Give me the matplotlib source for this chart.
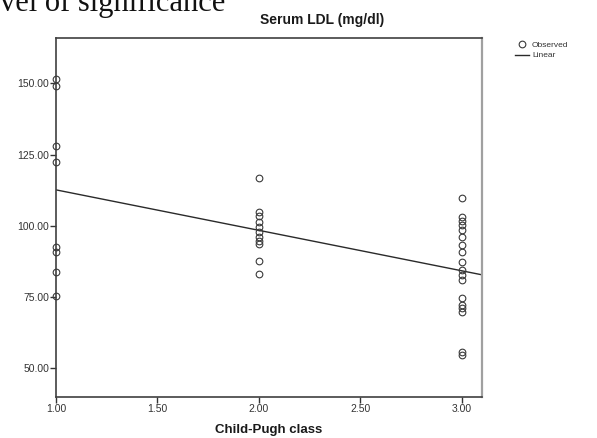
import matplotlib
matplotlib.use("Agg")
import matplotlib.pyplot as plt
import numpy as np

# ---- data ----
class1_values = [151.5, 149.0, 128.0, 122.5, 92.7, 90.9, 83.9, 75.4]
class2_values = [116.7, 104.8, 103.4, 101.3, 99.5, 97.8, 96.0, 94.6, 93.6, 87.6, 83.0]
class3_values = [109.6, 103.2, 101.8, 100.2, 98.5, 96.1, 93.2, 90.9, 87.4,
                 84.4, 82.7, 81.0, 74.5, 72.2, 71.0, 69.8, 55.8, 54.6]
class_levels = [1.0, 2.0, 3.0]
fit_intercept = 126.8
fit_slope = -14.2
x_ticks = [1.0, 1.5, 2.0, 2.5, 3.0]
y_ticks = [50, 75, 100, 125, 150]
title = "Serum LDL (mg/dl)"
x_label = "Child-Pugh class"
legend_labels = ["Observed", "Linear"]

plt.rcParams['font.family'] = ['Liberation Sans', 'DejaVu Sans']

fig = plt.figure(figsize=(5.97, 4.38), dpi=100)
ax = fig.add_axes([56/597, 1-397/438, (482-56)/597, (397-38)/438])

xs, ys = [], []
for lvl, vals in zip(class_levels, [class1_values, class2_values, class3_values]):
    xs += [lvl]*len(vals)
    ys += vals
obs, = ax.plot(xs, ys, linestyle='none', marker='o', markersize=4.8,
               markerfacecolor='none', markeredgecolor='#3a3a3a', markeredgewidth=0.8,
               clip_on=False, zorder=3)

xlim = (1.0, 3.1)
xl = np.array(xlim)
lin, = ax.plot(xl, fit_intercept + fit_slope*xl, color='#2a2a2a', linewidth=1.0, zorder=2)

ax.set_xlim(*xlim)
ax.set_ylim(39.9, 165.9)
ax.set_xticks(x_ticks)
ax.set_xticklabels([f"{t:.2f}" for t in x_ticks])
ax.set_yticks(y_ticks)
ax.set_yticklabels([f"{t:.2f}" for t in y_ticks])
ax.tick_params(axis='both', direction='out', length=4, width=1.0, color='#333333',
               labelsize=7.5, labelcolor='#333333', pad=1)

for s in ['left', 'bottom', 'top']:
    ax.spines[s].set_color('#404040')
    ax.spines[s].set_linewidth(1.2)
ax.spines['right'].set_color('#a0a0a0')
ax.spines['right'].set_linewidth(1.6)

ax.set_xlabel(x_label, fontsize=9.5, fontweight='bold', color='#1a1a1a', labelpad=7)
fig.text(322/597, 1-20/438, title, ha='center', va='center', fontsize=10,
         fontweight='bold', color='#1a1a1a')

fig.legend([obs, lin], legend_labels, loc='upper left', bbox_to_anchor=(512/597, 1-38/438),
           frameon=False, fontsize=6, handlelength=1.6, handletextpad=0.4,
           labelspacing=0.3, borderaxespad=0, labelcolor='#333333')

fig.text(0.0, 1-11/438, "vel of significance", ha='left', va='baseline',
         fontsize=22, family=['Liberation Serif', 'DejaVu Serif'], color='#111111')

fig.savefig("out.png", dpi=100)
